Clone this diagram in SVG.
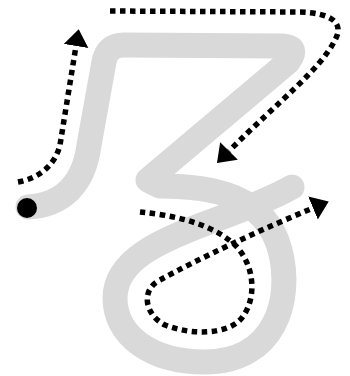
<svg xmlns="http://www.w3.org/2000/svg" width="350" height="376" viewBox="0 0 350 376">
<style>
.guide{fill:none;stroke:#d9d9d9;stroke-width:25;stroke-linecap:round;stroke-linejoin:round}
.dots{fill:none;stroke:#000;stroke-width:5.5;stroke-dasharray:5.5 4.5}
</style>
<defs>
<marker id="ah" markerUnits="userSpaceOnUse" markerWidth="18" markerHeight="26" refX="0" refY="12.5" orient="auto">
<path d="M0,0 L17,12.5 L0,25 z" fill="#000"/>
</marker>
</defs>
<g id="stroke-guide">
<path class="guide" d="M28,207 C62,205 84,185 89,145 L104,62 Q107,45 124,45 L282,46 Q300,47 288,62 L148,180 L160,186 C212,186 265,195 280,250 C293,300 275,362 205,362 C150,362 115,335 115,298 C115,260 160,240 215,220 C250,207 275,197 292,187"/>
</g>
<g id="start-dot">
<circle cx="27" cy="208" r="10" fill="#000"/>
</g>
<g id="connectors">
<path class="dots" marker-end="url(#ah)" d="M18,182 C40,178 55,165 60,145 L76,46"/>
<path class="dots" marker-end="url(#ah)" d="M110,11 L300,12 C330,13 345,22 335,40 C320,70 280,100 229,151"/>
<path class="dots" marker-end="url(#ah)" d="M140,212 C170,215 210,222 235,245 C255,265 258,300 240,320 C225,335 190,335 165,325 C145,315 140,290 160,280 C200,258 260,230 313,208"/>
</g>
</svg>
